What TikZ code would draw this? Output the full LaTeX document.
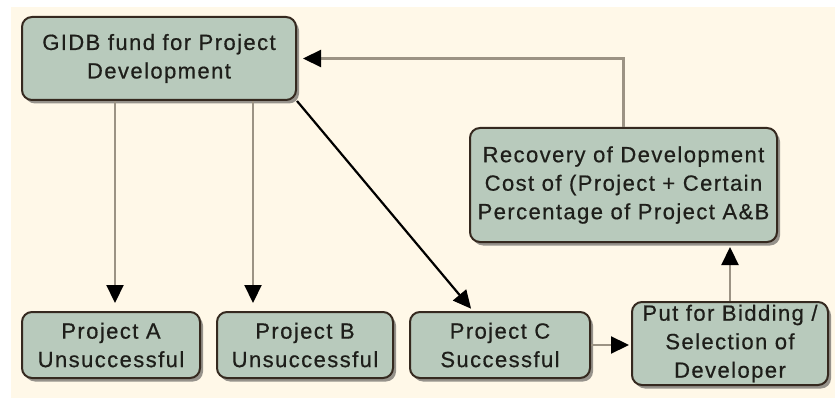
\documentclass[tikz,border=0pt]{standalone}
\usepackage{fontspec}
\setmainfont{Liberation Sans}[LetterSpace=6.5,FakeBold=0.6]
\usetikzlibrary{arrows.meta,shadows}
\definecolor{cream}{HTML}{FFF8E8}
\definecolor{boxfill}{HTML}{B8CABC}
\definecolor{boxline}{HTML}{35291F}
\definecolor{linkgray}{HTML}{9C9384}
\definecolor{txt}{HTML}{1E1E1A}
\begin{document}
\begin{tikzpicture}[x=1pt,y=-1pt,
  stage/.style={draw=boxline,line width=2pt,fill=boxfill,rounded corners=10pt,
    align=center,inner sep=0pt,text=txt,font=\fontsize{22}{28.5}\selectfont,
    drop shadow={shadow xshift=3pt,shadow yshift=-3.5pt,fill=black!75,opacity=.55}},
  link/.style={draw=linkgray,line width=2.2pt,-{Triangle[length=18pt,width=17pt,color=black]}}]
\useasboundingbox (0,0) rectangle (835,398);
\fill[cream] (11,7) rectangle (835,398);
\node[stage,minimum width=274pt,minimum height=83pt] (gidb) at (159,58.5) {GIDB fund for Project\\Development};
\node[stage,minimum width=307pt,minimum height=114pt] (rec) at (623.5,185) {Recovery of Development\\Cost of (Project + Certain\\Percentage of Project A\&B};
\node[stage,minimum width=178pt,minimum height=66pt] (pa) at (111,345) {Project A\\Unsuccessful};
\node[stage,minimum width=176pt,minimum height=66pt] (pb) at (305,345) {Project B\\Unsuccessful};
\node[stage,minimum width=180pt,minimum height=66pt] (pc) at (500,345) {Project C\\Successful};
\node[stage,minimum width=196pt,minimum height=83pt] (bid) at (730,343.5) {Put for Bidding /\\Selection of\\Developer};
\coordinate (colA) at (115,0);
\coordinate (colB) at (253,0);
\draw[link,shorten >=8pt] (colA |- gidb.south) -- (colA |- pa.north);
\draw[link,shorten >=8pt] (colB |- gidb.south) -- (colB |- pb.north);
\draw[link,draw=black,shorten >=3pt] (gidb.south east) -- ([xshift=-27pt]pc.north);
\draw[link,shorten >=2pt] (pc.east) -- (pc.east -| bid.west);
\draw[link,shorten >=4pt] (bid.north) -- (bid.north |- rec.south);
\draw[link,shorten >=6pt] (rec.north) |- (gidb.east);
\end{tikzpicture}
\end{document}
